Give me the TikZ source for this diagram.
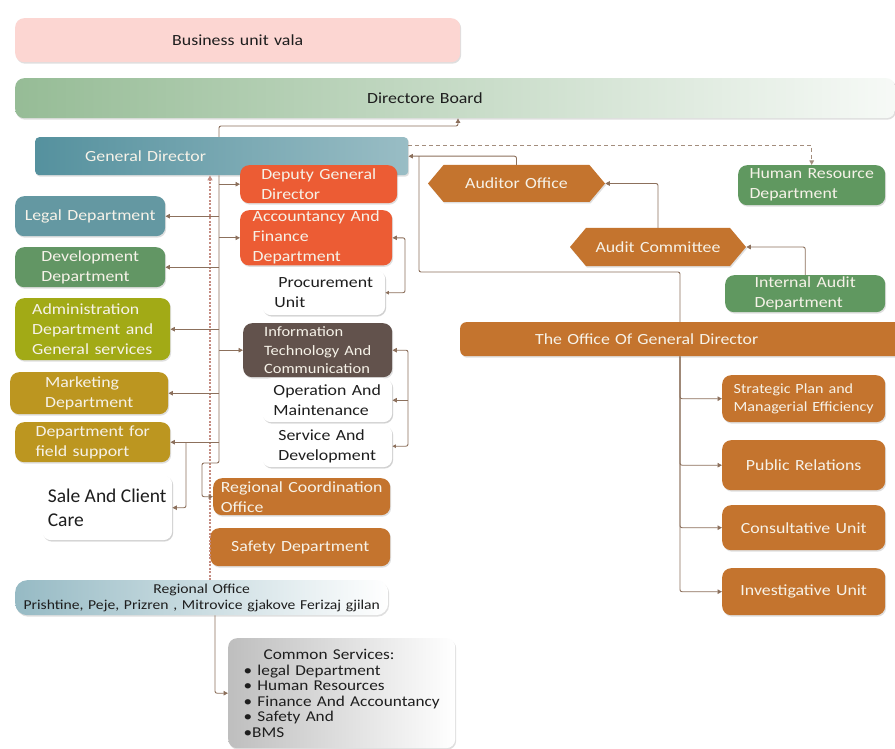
\documentclass[tikz,border=0pt]{standalone}
\usepackage{fontspec}
\setmainfont{Carlito}[FakeStretch=1.15, WordSpace=1.35]
\newfontfamily\plainfont{Carlito}
\usetikzlibrary{arrows.meta,shapes.symbols,shadows,calc}
\definecolor{pinkbg}{RGB}{252,214,210}
\definecolor{boardg}{RGB}{150,188,150}
\definecolor{teal1}{RGB}{85,145,158}
\definecolor{legalc}{RGB}{100,152,162}
\definecolor{devc}{RGB}{98,150,100}
\definecolor{adminc}{RGB}{162,170,22}
\definecolor{mustc}{RGB}{188,150,32}
\definecolor{redc}{RGB}{236,92,52}
\definecolor{itc}{RGB}{98,82,76}
\definecolor{brownc}{RGB}{196,116,46}
\definecolor{greenc}{RGB}{96,152,96}
\definecolor{linec}{RGB}{140,112,92}
\definecolor{dashc}{RGB}{196,140,130}
\definecolor{txtw}{RGB}{246,242,232}
\definecolor{txtd}{RGB}{30,30,30}
\definecolor{roc}{RGB}{150,186,196}
\definecolor{csc}{RGB}{190,190,190}
\tikzset{
  bx/.style={rounded corners=9pt, anchor=north west, align=left, inner xsep=3pt, inner ysep=1pt,
    text=txtw, font=\fontsize{15.5}{20}\selectfont,
    drop shadow={opacity=0.25, shadow xshift=1pt, shadow yshift=-1.5pt}},
  wbx/.style={bx, fill=white, text=txtd,
    drop shadow={opacity=0.15, shadow xshift=1pt, shadow yshift=-1pt}},
  sig/.style={shape=signal, signal to=west and east, signal pointer angle=100, anchor=center,
    fill=brownc, text=txtw, inner sep=1pt, font=\fontsize{15.5}{20}\selectfont,
    drop shadow={opacity=0.25, shadow xshift=1pt, shadow yshift=-1.5pt}},
  ln/.style={draw=linec, line width=0.9pt, rounded corners=2pt},
  ar/.style={ln, -{Triangle[length=4.5pt,width=4.5pt]}},
  arr/.style={ln, {Triangle[length=3.5pt,width=3.5pt]}-{Triangle[length=4.5pt,width=4.5pt]}},
  dotl/.style={draw=dashc, line width=1.6pt, dash pattern=on 2pt off 1.5pt},
  dashl/.style={draw=linec!80, line width=0.9pt, dash pattern=on 4pt off 3pt},
}
\begin{document}
\begin{tikzpicture}[x=1pt,y=-1pt]
\useasboundingbox (0,0) rectangle (895,749);
\fill[white] (0,0) rectangle (895,749);
% top bars
\node[bx, fill=pinkbg, text=txtd, align=center, minimum width=445pt, minimum height=44pt] (biz) at (15,18) {Business unit vala};
\node[bx, left color=boardg, right color=boardg!8!white, text=txtd, text width=874pt, minimum height=40pt] (board) at (15,78) {\hspace*{349pt}Directore Board};
\node[bx, left color=teal1, right color=teal1!60!white, rounded corners=4pt, text width=367pt, minimum height=38pt] (gd) at (35,137) {\hspace*{47pt}General Director};
% left column
\node[bx, fill=legalc, minimum width=150pt, minimum height=40pt] (legal) at (15,196) {Legal Department};
\node[bx, fill=devc, minimum width=150pt, minimum height=40pt] (dev) at (15,247) {Development\\Department};
\node[bx, fill=adminc, minimum width=155pt, minimum height=62pt] (admin) at (15,298) {Administration\\Department and\\General services};
\node[bx, fill=mustc, minimum width=158pt, minimum height=42pt] (mkt) at (10,372) {Marketing\\Department};
\node[bx, fill=mustc, minimum width=155pt, minimum height=40pt] (fs) at (15,422) {Department for\\field support};
\node[wbx, minimum width=130pt, minimum height=65pt, font=\plainfont\fontsize{19.5}{24}\selectfont] (sale) at (42,475) {Sale And Client\\Care};
% middle column
\node[bx, fill=redc, minimum width=157pt, minimum height=38pt] (dep) at (240,165) {Deputy General\\Director};
\node[bx, fill=redc, minimum width=152pt, minimum height=55pt] (acc) at (240,210) {Accountancy And\\Finance\\Department};
\node[wbx, minimum width=123pt, minimum height=45pt] (proc) at (262,270) {\hspace*{4pt}Procurement\\Unit};
\node[bx, fill=itc, minimum width=149pt, minimum height=54pt, font=\fontsize{14.3}{18.5}\selectfont] (it) at (243,323) {Information\\Technology And\\Communication};
\node[wbx, minimum width=130pt, minimum height=44pt] (op) at (262,378) {Operation And\\Maintenance};
\node[wbx, minimum width=130pt, minimum height=42pt] (sd) at (262,425) {Service And\\Development};
\node[bx, fill=brownc, minimum width=177pt, minimum height=37pt] (rco) at (213,478) {Regional Coordination\\Office};
\node[bx, fill=brownc, minimum width=180pt, minimum height=38pt] (safe) at (210,528) {Safety Department};
\node[bx, left color=roc, right color=white, text=txtd, align=center, rounded corners=12pt, minimum width=373pt, minimum height=35pt, font=\fontsize{13.6}{16}\selectfont] (ro) at (15,580) {Regional Office\\Prishtine, Peje, Prizren , Mitrovice gjakove Ferizaj gjilan};
\node[bx, left color=csc, right color=white, text=txtd, minimum width=227pt, minimum height=110pt, font=\fontsize{15}{15.5}\selectfont] (cs) at (228,638) {\hspace*{20pt}Common Services:\\\textbullet\ legal Department\\\textbullet\ Human Resources\\\textbullet\ Finance And Accountancy\\\textbullet\ Safety And\\\textbullet BMS};
% right side
\node[sig, minimum width=177pt, minimum height=37pt] (aud) at (516.5,183.5) {Auditor Office};
\node[bx, fill=greenc, minimum width=147pt, minimum height=40pt] (hr) at (738,165) {Human Resource\\Department};
\node[sig, minimum width=176pt, minimum height=38pt] (ac) at (658,247) {Audit Committee};
\node[bx, fill=greenc, minimum width=160pt, minimum height=37pt] (ia) at (725,275) {Internal Audit\\Department};
\node[bx, fill=brownc, text width=439pt, minimum height=34pt, rounded corners=6pt] (ogd) at (460,322) {\hspace*{72pt}The Office Of General Director};
\node[bx, fill=brownc, minimum width=163pt, minimum height=47pt, font=\fontsize{14}{18}\selectfont] (sp) at (722,375) {Strategic Plan and\\Managerial Efficiency};
\node[bx, fill=brownc, align=center, minimum width=163pt, minimum height=50pt] (pr) at (722,440) {Public Relations};
\node[bx, fill=brownc, align=center, minimum width=163pt, minimum height=45pt] (cu) at (722,505) {Consultative Unit};
\node[bx, fill=brownc, align=center, minimum width=163pt, minimum height=47pt] (iu) at (722,568) {Investigative Unit};
% helper coordinates
\coordinate (cT) at (219,0);
\coordinate (cD) at (210,0);
\coordinate (cB) at (458,0);
\coordinate (cY126) at (0,126);
\coordinate (cG) at (419,0);
\coordinate (cY272) at (0,272);
\coordinate (cF) at (186,0);
\coordinate (cP) at (405,0);
\coordinate (cI) at (408,0);
\coordinate (cJx) at (202,0);
\coordinate (cJy) at (0,463);
\coordinate (cR) at (215,0);
\coordinate (cO) at (680,0);
% connectors
\draw[ar] (gd.north -| cT) -- (cT |- cY126) -| (board.south -| cB);
\draw[ar] (aud.north) |- (gd.east);
\draw[dashl, -{Triangle[length=4.5pt,width=4.5pt]}] ([yshift=11pt]gd.east) -| (hr.north);
\draw[ln] (cG |- gd.east) -- (cG |- cY272) -| (ogd.north -| cO);
\draw[ar] (ac.north) |- (aud.east);
\draw[ar] (ia.north) |- (ac.east);
\draw[ar] (ogd.south -| cO) |- (sp.west);
\draw[ar] (ogd.south -| cO) |- (pr.west);
\draw[ar] (ogd.south -| cO) |- (cu.west);
\draw[ar] (ogd.south -| cO) |- (iu.west);
% dotted trunk
\draw[dotl, -{Triangle[length=5pt,width=5pt]}] (ro.north -| cD) -- (gd.south -| cD);
% solid trunk
\draw[ar] (gd.south -| cT) -- (cT |- cJy) -| (cJx |- rco.west) -- (rco.west);
\draw[ar] (cT |- dep.west) -- (dep.west);
\draw[ar] (cT |- acc.west) -- (acc.west);
\draw[ar] (cT |- it.west) -- (it.west);
\draw[ar] (cT |- legal.east) -- (legal.east);
\draw[ar] (cT |- dev.east) -- (dev.east);
\draw[ar] (cT |- admin.east) -- (admin.east);
\draw[ar] (cT |- mkt.east) -- (mkt.east);
\draw[ar] (cT |- fs.east) -- (fs.east);
\draw[ar] (cF |- fs.east) |- (sale.east);
\draw[arr] (proc.east) -| (cP |- acc.east) -- (acc.east);
\draw[arr] (sd.east) -| (cI |- it.east) -- (it.east);
\draw[ar] (cI |- op.east) -- (op.east);
\draw[ar] (ro.south -| cR) |- (cs.west);
\end{tikzpicture}
\end{document}
